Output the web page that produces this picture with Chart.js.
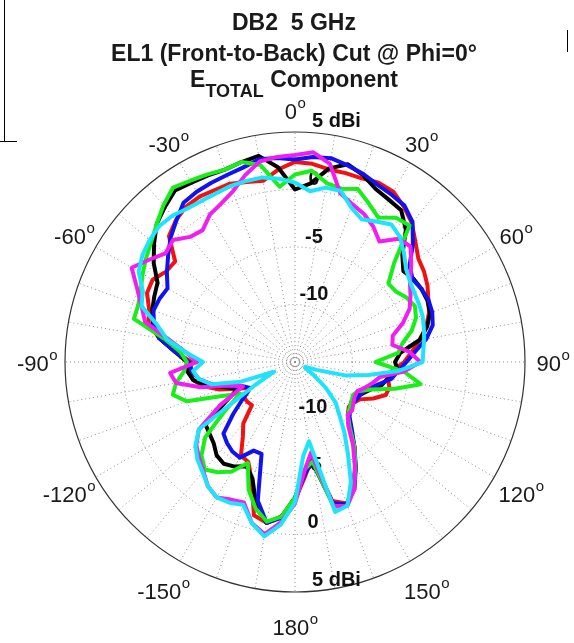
<!DOCTYPE html>
<html>
<head>
<meta charset="utf-8">
<script src="https://cdn.jsdelivr.net/npm/chart.js@4.4.1/dist/chart.umd.min.js"></script>
<style>
html,body{margin:0;padding:0;background:#fff}
#wrap{position:relative;width:574px;height:643px;overflow:hidden;font-family:"Liberation Sans",Arial,sans-serif}
#wrap canvas{position:absolute;left:0;top:0}
.titulo{position:absolute;left:0;width:588px;text-align:center;font-weight:bold;font-size:23px;color:#1a1a1a;line-height:23px;white-space:nowrap}
.titulo sub{font-size:18px;vertical-align:-10px;line-height:0}
.moldura{position:absolute;background:#000}
</style>
</head>
<body>
<div id="wrap">
<canvas id="grafico" width="574" height="643"></canvas>
<div class="titulo" style="top:11px">DB2&nbsp; 5 GHz</div>
<div class="titulo" style="top:42px">EL1 (Front-to-Back) Cut @ Phi=0°</div>
<div class="titulo" style="top:68px">E<sub>TOTAL</sub> Component</div>
<div class="moldura" style="left:4px;top:0;width:1px;height:142px"></div>
<div class="moldura" style="left:0;top:141px;width:17px;height:1px"></div>
<div class="moldura" style="left:567px;top:30px;width:1px;height:22px"></div>
</div>
<script>
// angulos em graus (0 no topo, sentido horario)
const angulos=[0,5,10,15,20,25,30,35,40,45,50,55,60,65,70,75,80,85,90,95,100,105,110,115,120,125,130,135,140,145,150,155,160,165,170,175,180,185,190,195,200,205,210,215,220,225,230,235,240,245,250,255,260,265,270,275,280,285,290,295,300,305,310,315,320,325,330,335,340,345,350,355]

// rotulos dos angulos (a cada 30 graus)
const rotulosAngulo={0:'0',30:'30',60:'60',90:'90',120:'120',150:'150',180:'180',210:'-150',240:'-120',270:'-90',300:'-60',330:'-30'}

// rotulos dos aneis (dBi)
const aneis=[5,0,-5,-10]
const rotulosAnel=['5 dBi','0','-5','-10']

// ganho em dBi
const serieVermelha=[2.4,2.3,2.0,2.0,2.0,2.2,2.1,1.5,0.8,-0.2,-1.0,-1.3,-1.7,-2.2,-2.6,-3.2,-4.0,-4.8,-5.5,-6.5,-6.8,-6.5,-6.6,-7.5,-8.5,-8.8,-8.9,-8.5,-7.5,-6.0,-4.5,-2.8,-1.9,-2.5,-6.5,-5.0,-3.0,-1.5,-0.8,-1.2,-4.0,-5.4,-5.6,-7.1,-8.0,-9.7,-9.6,-9.6,-10.5,-9.5,-8.0,-6.8,-6.0,-5.8,-6.0,-4.5,-3.0,-1.8,-1.5,-0.8,-0.7,-1.3,-1.4,0.5,1.1,1.5,1.6,1.5,1.5,1.2,1.0,1.8]
const seriePreta=[0.0,0.6,2.1,2.8,2.3,1.6,1.3,1.1,0.0,-1.8,-2.7,-2.4,-2.3,-2.3,-2.5,-3.1,-4.0,-5.8,-6.3,-6.0,-6.8,-7.2,-8.0,-8.5,-9.0,-9.0,-8.8,-8.5,-7.5,-6.0,-4.5,-3.0,-1.8,-2.2,-6.0,-5.5,-3.2,-1.5,-0.8,-2.0,-4.2,-5.0,-4.5,-4.2,-4.4,-5.0,-5.3,-5.5,-8.0,-9.5,-8.6,-7.0,-6.0,-5.6,-5.6,-4.5,-3.0,-2.2,-1.8,-1.5,-1.2,0.0,1.0,2.0,2.6,3.2,3.0,2.9,2.8,3.0,3.2,2.0]
const serieAzul=[2.6,2.9,3.0,2.7,2.4,2.0,1.8,1.6,0.9,-0.5,-2.0,-2.5,-2.3,-2.2,-2.3,-2.6,-3.4,-4.5,-5.3,-6.0,-6.5,-7.5,-8.2,-8.6,-8.7,-8.8,-8.7,-8.3,-7.3,-6.0,-4.4,-2.8,-1.8,-2.3,-6.3,-5.2,-3.0,-1.4,-0.8,-2.5,-6.5,-6.5,-5.4,-5.5,-5.8,-6.2,-8.0,-9.5,-10.5,-10.0,-8.8,-7.5,-6.5,-6.0,-5.8,-4.5,-3.0,-2.3,-1.9,-2.0,-2.2,-1.4,-0.6,0.3,1.05,1.9,2.1,2.2,2.3,2.5,2.9,2.8]
const serieVerde=[1.3,1.7,0.8,0.6,1.0,0.2,-0.5,0.3,0.5,-2.8,-4.4,-4.3,-3.8,-3.5,-3.8,-4.5,-5.5,-6.0,-8.0,-5.5,-3.9,-6.0,-8.0,-9.0,-9.2,-9.0,-8.8,-8.5,-7.6,-6.0,-4.5,-2.9,-1.7,-2.0,-6.2,-5.6,-3.2,-1.5,-0.9,-1.8,-3.2,-5.3,-4.0,-3.3,-2.8,-3.5,-4.8,-7.5,-9.5,-8.0,-5.0,-4.0,-4.5,-5.3,-5.6,-5.0,-3.5,-0.5,-0.5,-0.2,0.3,0.8,1.3,2.0,2.8,3.5,3.2,3.0,2.8,3.0,2.4,0.3]
const serieMagenta=[3.0,3.3,2.5,0.2,-0.4,-0.8,-1.4,-2.2,-1.0,-0.8,-1.8,-2.8,-3.4,-4.0,-5.0,-6.2,-6.4,-5.0,-4.1,-5.5,-7.5,-8.0,-8.5,-9.0,-9.0,-8.8,-8.5,-8.5,-7.8,-6.2,-4.6,-2.8,-1.7,-2.0,-7.0,-5.5,-2.7,-1.0,0.2,-0.5,-2.0,-1.8,-1.4,-1.8,-2.6,-3.2,-3.8,-4.8,-7.5,-10.0,-9.0,-6.5,-4.5,-4.1,-6.5,-5.5,-3.9,-1.5,-0.8,0.15,1.4,0.5,-0.3,0.0,-0.8,-1.0,-0.2,0.2,0.8,1.8,2.7,2.9]
const serieCiano=[0.6,-0.1,0.4,0.4,-0.7,-1.3,-0.9,-0.4,-0.8,-1.6,-2.4,-2.8,-3.0,-3.1,-3.2,-3.4,-3.6,-3.8,-3.9,-6.0,-8.5,-10.5,-13.0,-14.0,-14.0,-13.0,-11.5,-10.0,-9.0,-7.5,-5.8,-3.5,-1.7,-1.5,-8.0,-6.8,-2.8,-0.8,0.4,-0.5,-1.8,-1.5,-1.4,-1.8,-2.5,-3.0,-3.7,-4.8,-11.0,-13.0,-10.0,-7.5,-6.5,-6.1,-7.0,-5.5,-3.7,-2.6,-0.8,-0.4,0.7,1.2,1.5,1.7,1.6,1.3,1.2,1.2,1.3,1.3,1.3,1.0]

let graficoPolar=null

const pluginRotulos={
id:'rotulosPolares',
beforeDatasetsDraw(chart){
let s=chart.scales.r
let ctx=chart.ctx
ctx.save()
// circulo central
ctx.strokeStyle='#888'
ctx.lineWidth=1
ctx.setLineDash([1,2])
ctx.beginPath()
ctx.arc(s.xCenter,s.yCenter,5,0,Math.PI*2)
ctx.stroke()
ctx.setLineDash([])
ctx.fillStyle='#111'
ctx.font='bold 20px "Liberation Sans",Arial,sans-serif'
ctx.textBaseline='middle'
aneis.forEach((v,i)=>{
let d=s.getDistanceFromCenterForValue(v)
let txt=rotulosAnel[i]
if(i===0){
ctx.textAlign='left'
ctx.fillText(txt,312,s.yCenter-d-11)
ctx.fillText(txt,312,s.yCenter+d-12)
}else{
ctx.textAlign='center'
ctx.fillText(txt,314,s.yCenter-d-10)
ctx.fillText(txt,313,s.yCenter+d-12)
}
})
ctx.restore()
},
afterDraw(chart){
let s=chart.scales.r
let ctx=chart.ctx
ctx.save()
ctx.fillStyle='#1a1a1a'
ctx.textBaseline='middle'
angulos.forEach((a,i)=>{
let txt=rotulosAngulo[a]
if(txt===undefined)return
let dist=258-6*Math.cos(a*Math.PI/180)
let p=s.getPointPosition(i,dist)
ctx.font='22px "Liberation Sans",Arial,sans-serif'
let w1=ctx.measureText(txt).width
ctx.font='15px "Liberation Sans",Arial,sans-serif'
let w2=ctx.measureText('o').width
let x0=p.x-(w1+w2)/2
ctx.textAlign='left'
ctx.font='22px "Liberation Sans",Arial,sans-serif'
ctx.fillText(txt,x0,p.y+3)
ctx.font='15px "Liberation Sans",Arial,sans-serif'
ctx.fillText('o',x0+w1+0.5,p.y-6)
})
ctx.restore()
}
}

function serie(dados,cor){
return{
data:dados,
borderColor:cor,
backgroundColor:cor,
borderWidth:4,
fill:false,
tension:0,
pointRadius:0,
borderJoinStyle:'round',
borderCapStyle:'round'
}
}

function desenharGrafico(){

let ctx=document.getElementById('grafico')

if(graficoPolar){
graficoPolar.destroy()
}

graficoPolar=new Chart(ctx,{
type:'radar',
data:{
labels:angulos,
datasets:[
serie(serieCiano,'#1ee3fb'),
serie(serieMagenta,'#f01ef0'),
serie(serieVerde,'#19ee19'),
serie(serieAzul,'#1212f0'),
serie(seriePreta,'#000000'),
serie(serieVermelha,'#f01212')
]
},
options:{
responsive:false,
animation:false,
layout:{
padding:{left:65,right:49,top:132.5,bottom:50.5}
},
plugins:{
legend:{display:false},
tooltip:{enabled:false}
},
scales:{
r:{
min:-15,
max:5,
startAngle:0,
ticks:{display:false,stepSize:5},
pointLabels:{display:false},
grid:{
circular:true,
color:c=>c.tick.value===5?'#333':'#8a8a8a',
lineWidth:c=>c.tick.value===5?1.2:1
},
border:{
dash:c=>c.tick.value===5?[]:[1,3]
},
angleLines:{
color:c=>c.index%2===0?'#8a8a8a':'rgba(0,0,0,0)',
lineWidth:c=>c.index%2===0?1:0,
borderDash:[1,3]
}
}
}
},
plugins:[pluginRotulos]
})

}

document.addEventListener('DOMContentLoaded',()=>{
desenharGrafico()
})
</script>
</body>
</html>
